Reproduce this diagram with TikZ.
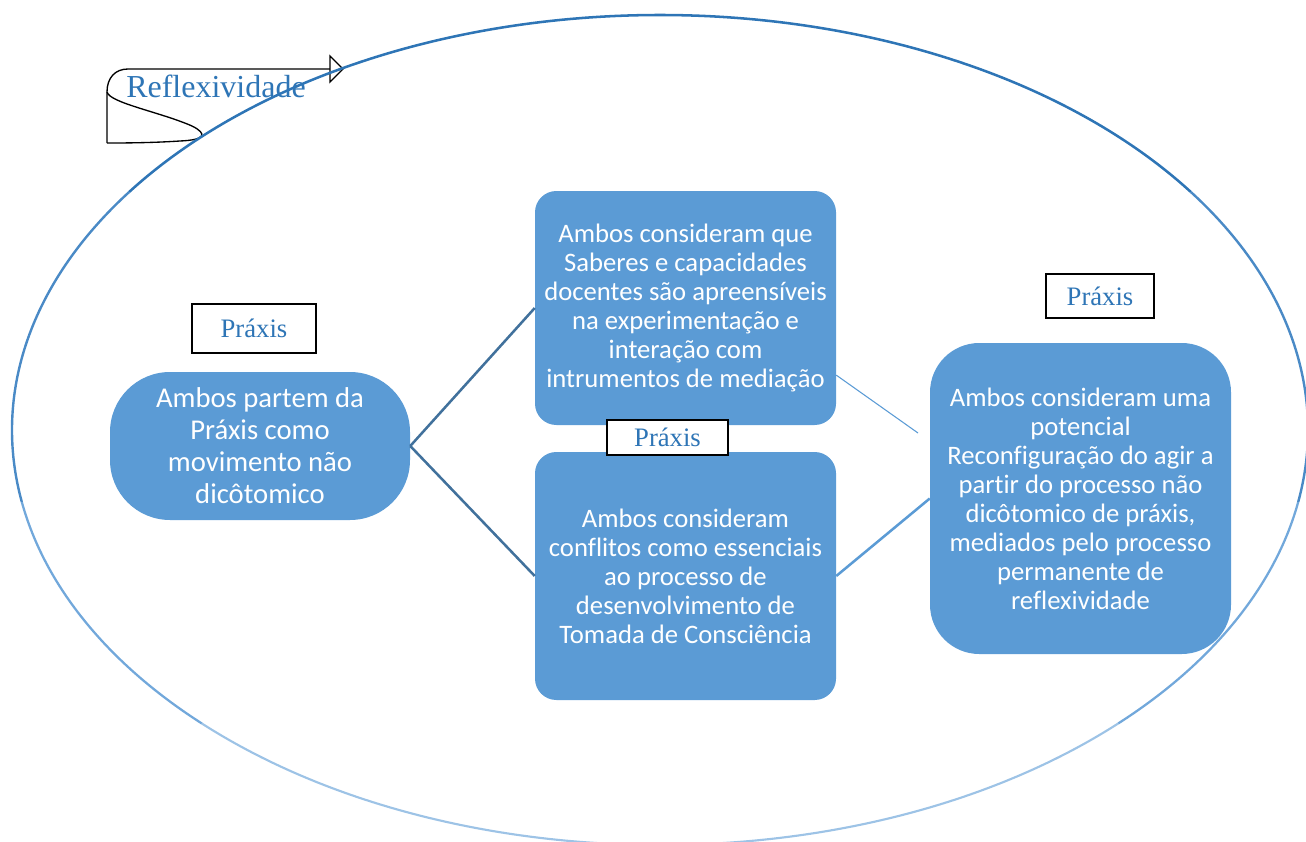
\documentclass[tikz,border=0pt]{standalone}
\usepackage{fontspec}
\setmainfont{Liberation Serif}
\newfontfamily\boxfont[Ligatures=NoCommon]{Carlito}
\usepackage{tikz}

\definecolor{boxblue}{HTML}{5B9BD5}
\definecolor{textblue}{HTML}{2E75B6}
\definecolor{darklink}{HTML}{41719C}
\definecolor{ringA}{HTML}{2E75B6}
\definecolor{ringB}{HTML}{4A8AC6}
\definecolor{ringC}{HTML}{72A8DB}
\definecolor{ringD}{HTML}{9DC3E6}

\begin{document}
\begin{tikzpicture}[x=0.75pt,y=0.75pt,yscale=-1,xscale=1,
    bluebox/.style={fill=boxblue, draw=none, text=white, align=center, inner sep=0pt,
        font=\boxfont\fontsize{20}{21.75}\selectfont},
    praxis/.style={draw=black, fill=white, line width=1pt, text=textblue, inner sep=0pt,
        font=\fontsize{20}{22}\selectfont},
    link/.style={line width=1.9pt}]
    \useasboundingbox (0,0) rectangle (1306,842);
    \clip (0,0) rectangle (1306,842);

    %U-turn arrow behind the title
    \draw [line width=1pt] (107,143) -- (107,92) .. controls (107,78) and (115,69) .. (128,69) -- (330,69) ;
    \draw [line width=1pt, fill=white] (330,56) -- (343,69) -- (330,82) -- cycle ;
    \draw [line width=1pt] (107,92) .. controls (110,103) and (160,112) .. (192,126) .. controls (208,134) and (205,140) .. (180,141) .. controls (150,143) and (120,143) .. (107,143) ;
    % Text Node
    \node [text=textblue, font=\fontsize{24}{26}\selectfont] (reflex) at (216,86) {Reflexividade};

    %Blue boxes
    \node [bluebox, minimum width=225pt, minimum height=111pt, rounded corners=45pt,
        font=\boxfont\fontsize{21.5}{24}\selectfont] (partem) at (260,446)
        {Ambos partem da\\Práxis como\\movimento não\\dicôtomico};
    \node [bluebox, minimum width=225.75pt, minimum height=175.5pt, rounded corners=16pt] (saberes) at (685.5,308)
        {Ambos consideram que\\Saberes e capacidades\\docentes são apreensíveis\\na experimentação e\\interação com\\intrumentos de mediação};
    \node [bluebox, minimum width=225.75pt, minimum height=186pt, rounded corners=16pt] (conflitos) at (685.5,576)
        {Ambos consideram\\conflitos como essenciais\\ao processo de\\desenvolvimento de\\Tomada de Consciência};
    \node [bluebox, minimum width=225.75pt, minimum height=233.25pt, rounded corners=37pt] (reconf) at (1080.5,498.5)
        {Ambos consideram uma\\potencial\\Reconfiguração do agir a\\partir do processo não\\dicôtomico de práxis,\\mediados pelo processo\\permanente de\\reflexividade};

    %Práxis labels
    \node [praxis, minimum width=93pt, minimum height=36.75pt] (praxisA) at (254,328.5) {Práxis};
    \node [praxis, minimum width=90.75pt, minimum height=26.25pt] (praxisB) at (667.5,437.5) {Práxis};
    \node [praxis, minimum width=81pt, minimum height=33pt] (praxisC) at (1100,296) {Práxis};

    %Connectors
    \coordinate (gapend) at (918,433);
    \draw [link, draw=darklink] (partem.east) -- (saberes.west) ;
    \draw [link, draw=darklink] (partem.east) -- (conflitos.west) ;
    \draw [draw=boxblue, line width=0.8pt] (saberes.-24.6) -- (gapend) ;
    \draw [link, draw=boxblue] (conflitos.east) -- (reconf.west) ;

    %Ellipse, darker on top
    \draw [ringA, line width=1.9pt] (660,430) ++(215:486pt and 311.25pt) arc [start angle=215, end angle=325, x radius=486pt, y radius=311.25pt] ;
    \draw [ringB, line width=1.8pt] (660,430) ++(325:486pt and 311.25pt) arc [start angle=325, end angle=370, x radius=486pt, y radius=311.25pt] ;
    \draw [ringB, line width=1.8pt] (660,430) ++(170:486pt and 311.25pt) arc [start angle=170, end angle=215, x radius=486pt, y radius=311.25pt] ;
    \draw [ringC, line width=1.7pt] (660,430) ++(10:486pt and 311.25pt) arc [start angle=10, end angle=45, x radius=486pt, y radius=311.25pt] ;
    \draw [ringC, line width=1.7pt] (660,430) ++(135:486pt and 311.25pt) arc [start angle=135, end angle=170, x radius=486pt, y radius=311.25pt] ;
    \draw [ringD, line width=1.6pt] (660,430) ++(45:486pt and 311.25pt) arc [start angle=45, end angle=135, x radius=486pt, y radius=311.25pt] ;

\end{tikzpicture}
\end{document}
